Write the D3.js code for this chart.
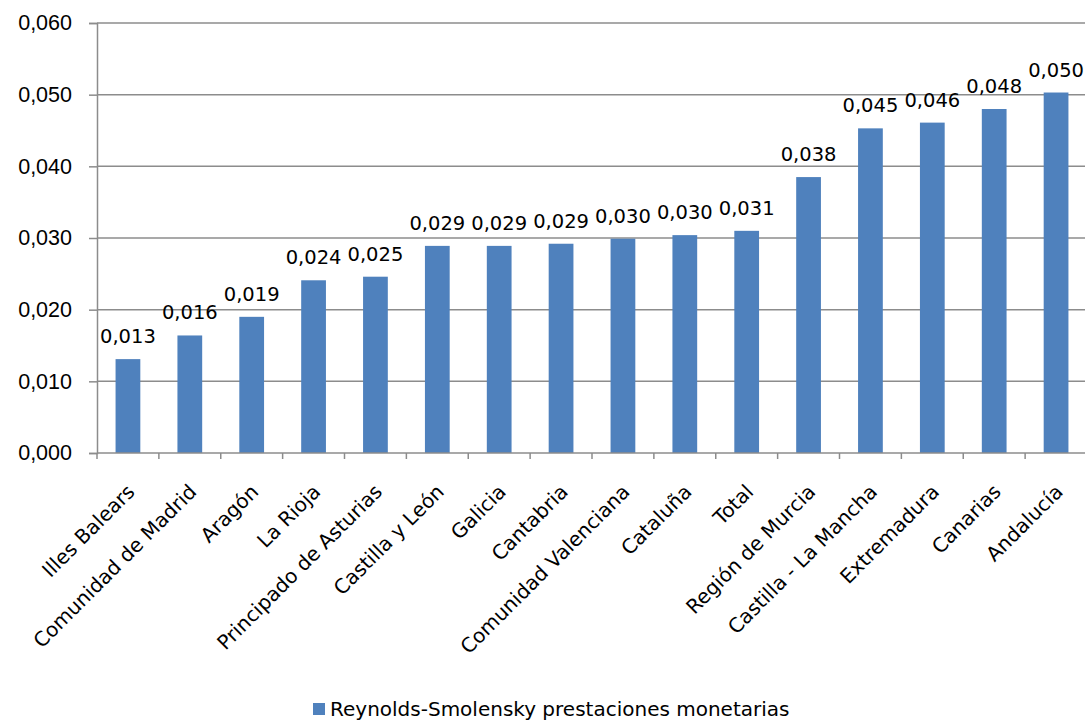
<!DOCTYPE html>
<html>
<head>
<meta charset="utf-8">
<script src="https://cdn.jsdelivr.net/npm/d3@7"></script>
<style>
  body { margin: 0; background: #fff; overflow: hidden; }
  svg { display: block; font-family: "DejaVu Sans", Verdana, sans-serif; }
</style>
</head>
<body>
<div id="chart"></div>
<script>
// data
let regions = ["Illes Balears", "Comunidad de Madrid", "Aragón", "La Rioja", "Principado de Asturias",
    "Castilla y León", "Galicia", "Cantabria", "Comunidad Valenciana", "Cataluña", "Total",
    "Región de Murcia", "Castilla - La Mancha", "Extremadura", "Canarias", "Andalucía"];
let values = [0.0131, 0.0164, 0.0190, 0.0241, 0.0246, 0.0289, 0.0289, 0.0292, 0.0299, 0.0304,
    0.0310, 0.0385, 0.0453, 0.0461, 0.0480, 0.0503];
let yTicks = [0, 0.01, 0.02, 0.03, 0.04, 0.05, 0.06];
let seriesName = "Reynolds-Smolensky prestaciones monetarias";

// plot area runs slightly past the right edge, as in the original
let margin = {top: 23, right: -2, bottom: 269, left: 97},
    width = 1085 - margin.left - margin.right,
    height = 722 - margin.top - margin.bottom;

let fmt = d => d3.format(".3f")(d).replace(".", ",");

let svg = d3.select("#chart")
    .append("svg")
    .attr("width", 1085)
    .attr("height", 722)
    .append("g")
    .attr("transform", "translate(" + margin.left + "," + margin.top + ")");

let x = d3.scaleBand()
    .domain(regions)
    .range([0, width])
    .paddingInner(0.60)
    .paddingOuter(0.30);

let y = d3.scaleLinear()
    .domain([0, 0.06])
    .range([height, 0]);

// gridlines + y axis
let yAxis = svg.append("g")
    .call(d3.axisLeft(y).tickValues(yTicks).tickFormat(fmt).tickSize(8).tickPadding(17))
    .call(g => g.select(".domain").attr("stroke", "#8c8c8c").attr("stroke-width", 1.5))
    .call(g => g.selectAll(".tick line").attr("stroke", "#8c8c8c").attr("stroke-width", 1.5))
    .call(g => g.selectAll(".tick text").attr("font-size", 21.5).attr("fill", "#000"));

svg.append("g")
    .selectAll("line")
    .data(yTicks.filter(d => d > 0))
    .enter()
    .append("line")
    .attr("x1", 0)
    .attr("x2", width)
    .attr("y1", d => y(d))
    .attr("y2", d => y(d))
    .attr("stroke", "#8c8c8c")
    .attr("stroke-width", 1.5);

// bars
svg.append("g")
    .selectAll("rect")
    .data(values)
    .enter()
    .append("rect")
    .attr("x", (d, i) => x(regions[i]))
    .attr("y", d => y(d))
    .attr("width", x.bandwidth())
    .attr("height", d => height - y(d))
    .attr("fill", "#4f81bd");

// value labels
svg.append("g")
    .selectAll("text")
    .data(values)
    .enter()
    .append("text")
    .attr("x", (d, i) => x(regions[i]) + x.bandwidth() / 2)
    .attr("y", d => y(d) - 16)
    .attr("text-anchor", "middle")
    .attr("font-size", 19.5)
    .attr("fill", "#000")
    .text(d => fmt(d));

// x axis with ticks between categories
let xAxis = svg.append("g")
    .attr("transform", "translate(0," + height + ")");
xAxis.append("line")
    .attr("x1", 0).attr("x2", width)
    .attr("stroke", "#8c8c8c").attr("stroke-width", 1.5);
xAxis.selectAll(".sep")
    .data(d3.range(regions.length + 1))
    .enter()
    .append("line")
    .attr("x1", d => d * x.step())
    .attr("x2", d => d * x.step())
    .attr("y1", 0).attr("y2", 6)
    .attr("stroke", "#8c8c8c").attr("stroke-width", 1.5);
xAxis.selectAll(".lbl")
    .data(regions)
    .enter()
    .append("text")
    .attr("text-anchor", "end")
    .attr("font-size", 20)
    .attr("fill", "#000")
    .attr("transform", d => "translate(" + (x(d) + x.bandwidth() / 2 + 8) + ",40) rotate(-45)")
    .text(d => d);

// legend
let legend = d3.select("svg").append("g")
    .attr("transform", "translate(313,703)");
legend.append("rect")
    .attr("width", 12).attr("height", 12)
    .attr("fill", "#4f81bd");
legend.append("text")
    .attr("x", 17).attr("y", 13)
    .attr("font-size", 20)
    .attr("fill", "#000")
    .text(seriesName);
</script>
</body>
</html>
